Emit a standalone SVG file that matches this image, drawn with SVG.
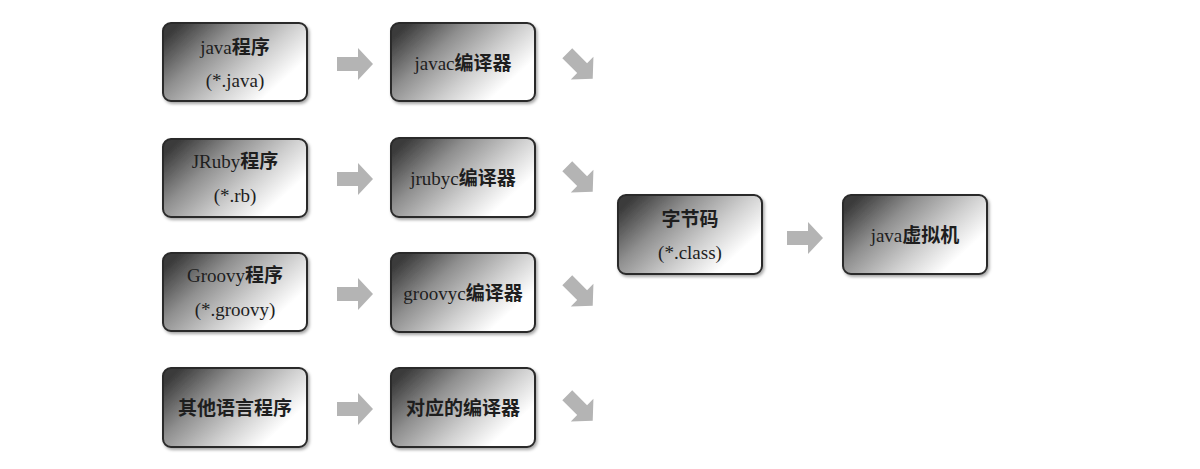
<svg xmlns="http://www.w3.org/2000/svg" width="1200" height="469" viewBox="0 0 1200 469">
<defs>
<linearGradient id="g" x1="0" y1="0.2" x2="1" y2="0.8">
<stop offset="0" stop-color="#3a3a3a"/>
<stop offset="0.3" stop-color="#8f8f8f"/>
<stop offset="0.6" stop-color="#cfcfcf"/>
<stop offset="0.85" stop-color="#ffffff"/>
</linearGradient>
<filter id="sh" x="-10%" y="-10%" width="125%" height="130%">
<feDropShadow dx="1.5" dy="2" stdDeviation="1.5" flood-color="#000" flood-opacity="0.35"/>
</filter>
<path id="arr" d="M-18,-7 L3,-7 L3,-16 L18,0 L3,16 L3,7 L-18,7 Z"/>
</defs>
<style>
.box{fill:url(#g);stroke:#2a2a2a;stroke-width:2;filter:url(#sh)}
.t{font-family:"Liberation Serif","Noto Sans CJK SC",serif;font-size:19px;fill:#1e1e1e;text-anchor:middle}
.b{font-weight:bold}
.a{fill:#b4b4b4}
</style>
<rect width="1200" height="469" fill="#ffffff"/>
<g id="n1"><rect class="box" x="163" y="23" width="144" height="78" rx="8"/><text class="t" x="235" y="54">java<tspan class="b">程序</tspan></text><text class="t" x="235" y="87">(*.java)</text></g>
<g id="n2"><rect class="box" x="163" y="139" width="144" height="78" rx="8"/><text class="t" x="235" y="168">JRuby<tspan class="b">程序</tspan></text><text class="t" x="235" y="202">(*.rb)</text></g>
<g id="n3"><rect class="box" x="163" y="253" width="144" height="78" rx="8"/><text class="t" x="235" y="282">Groovy<tspan class="b">程序</tspan></text><text class="t" x="235" y="316">(*.groovy)</text></g>
<g id="n4"><rect class="box" x="163" y="368" width="144" height="79" rx="8"/><text class="t b" x="235" y="415">其他语言程序</text></g>
<g id="c1"><rect class="box" x="391" y="23" width="144" height="78" rx="8"/><text class="t" x="463" y="70">javac<tspan class="b">编译器</tspan></text></g>
<g id="c2"><rect class="box" x="391" y="138" width="144" height="79" rx="8"/><text class="t" x="463" y="185">jrubyc<tspan class="b">编译器</tspan></text></g>
<g id="c3"><rect class="box" x="391" y="253" width="144" height="79" rx="8"/><text class="t" x="463" y="300">groovyc<tspan class="b">编译器</tspan></text></g>
<g id="c4"><rect class="box" x="391" y="368" width="144" height="79" rx="8"/><text class="t b" x="463" y="415">对应的编译器</text></g>
<g id="bc"><rect class="box" x="618" y="195" width="144" height="79" rx="8"/><text class="t b" x="690" y="226">字节码</text><text class="t" x="690" y="259">(*.class)</text></g>
<g id="jvm"><rect class="box" x="843" y="195" width="144" height="79" rx="8"/><text class="t" x="915" y="242">java<tspan class="b">虚拟机</tspan></text></g>
<g id="connectors">
<use href="#arr" class="a" transform="translate(355,64)"/>
<use href="#arr" class="a" transform="translate(355,179)"/>
<use href="#arr" class="a" transform="translate(355,294)"/>
<use href="#arr" class="a" transform="translate(355,409)"/>
<use href="#arr" class="a" transform="translate(580,66) rotate(45)"/>
<use href="#arr" class="a" transform="translate(580,179) rotate(45)"/>
<use href="#arr" class="a" transform="translate(580,293) rotate(45)"/>
<use href="#arr" class="a" transform="translate(580,408) rotate(45)"/>
<use href="#arr" class="a" transform="translate(805,238)"/>
</g>
</svg>
